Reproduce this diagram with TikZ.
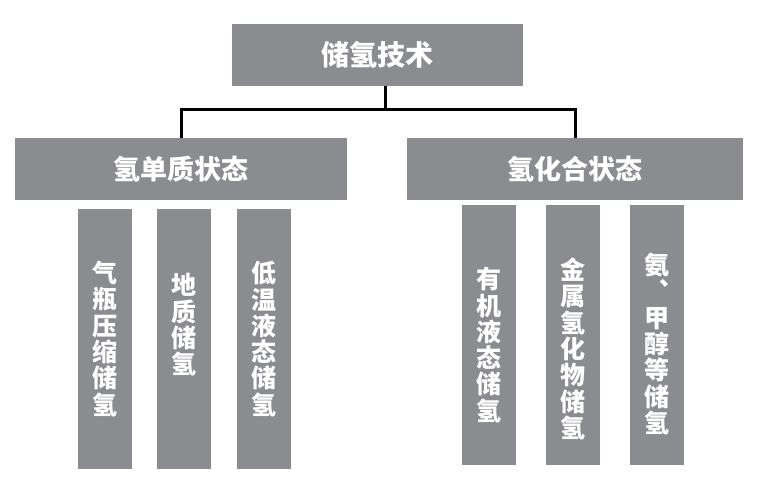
\documentclass[tikz,border=0pt]{standalone}
\usepackage{fontspec}
\usepackage{xcolor}
\usepackage{tikz}
\usetikzlibrary{positioning}
\newfontfamily\cjk{Noto Sans CJK SC}
\definecolor{boxgray}{HTML}{8B8C90}
\newcommand\vlab[2][0pt]{\raisebox{#1}[\height][\depth]{\parbox{1em}{\centering #2}}}
\tikzset{
  hdr/.style={fill=boxgray, text=white, minimum width=#1, minimum height=62pt,
              inner sep=0pt, font=\cjk\bfseries\fontsize{27}{30}\selectfont},
  leaf/.style={fill=boxgray, text=white, minimum width=54pt, minimum height=260pt,
               inner sep=0pt, font=\cjk\bfseries\fontsize{25}{26.3}\selectfont},
  link/.style={line width=3pt, draw=black}
}
\begin{document}
\begin{tikzpicture}[x=1pt, y=-1pt, node distance=25pt]
  \useasboundingbox (0,0) rectangle (761,498);
  % top and the two groups
  \node[hdr=291pt, font=\cjk\bfseries\fontsize{28}{30}\selectfont] (tech) at (377.5,55) {储氢技术};
  \node[hdr=332pt] (pure) at (181,169) {氢单质状态};
  \node[hdr=336pt] (comp) at (575,169) {氢化合状态};
  \coordinate (fork) at (385,109);
  \draw[link] (tech.south -| fork) -- (fork) -| (pure);
  \draw[link] (fork) -| (comp);
  % pure hydrogen
  \node[leaf] (gas) at (105,339) {\vlab{气\\瓶\\压\\缩\\储\\氢}};
  \node[leaf, right=of gas] (geo) {\vlab[14pt]{地\\质\\储\\氢}};
  \node[leaf, right=of geo] (liq) {\vlab{低\\温\\液\\态\\储\\氢}};
  % compounds
  \node[leaf] (org) at (489,335) {\vlab[-10pt]{有\\机\\液\\态\\储\\氢}};
  \node[leaf, right=30pt of org] (metal) {\vlab[-14pt]{金\\属\\氢\\化\\物\\储\\氢}};
  \node[leaf, right=29pt of metal] (amm) {\vlab[-9pt]{氨\\︑\\甲\\醇\\等\\储\\氢}};
\end{tikzpicture}
\end{document}
